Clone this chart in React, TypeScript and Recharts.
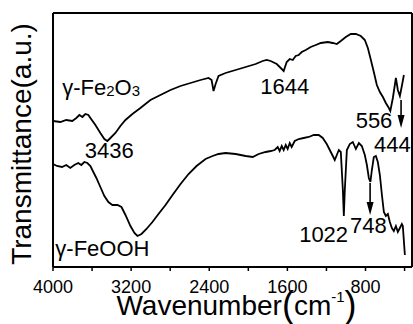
import React from "react";
import {
    LineChart,
    Line,
    XAxis,
    YAxis,
    ReferenceDot,
    ReferenceLine,
} from "recharts";

// wavenumber (cm-1) and transmittance (a.u.) for the two samples
const fe2o3Wn = [
    4000, 3925, 3864, 3802, 3761, 3730, 3699, 3669, 3638, 3617, 3566, 3515,
    3474, 3443, 3412, 3361, 3310, 3258, 3187, 3105, 3002, 2900, 2797, 2694,
    2592, 2489, 2407, 2376, 2356, 2335, 2305, 2233, 2130, 2027, 1925, 1853,
    1812, 1771, 1709, 1668, 1638, 1607, 1576, 1545, 1515, 1484, 1453, 1412,
    1361, 1309, 1258, 1186, 1135, 1094, 1053, 1002, 951, 899, 848, 807, 776,
    745, 715, 684, 653, 622, 592, 561, 546, 520, 489, 469, 448, 428, 407,
];
const fe2o3T = [
    146, 145, 147, 146, 149, 152, 150, 153, 152, 149, 142, 134, 128, 126, 129,
    134, 141, 147, 153, 159, 167, 172, 177, 181, 184, 187, 189, 187, 176, 183,
    191, 194, 197, 200, 203, 206, 207, 206, 203, 199, 196, 205, 208, 207, 211,
    212, 215, 217, 220, 222, 224, 225, 224, 223, 226, 230, 233, 233, 231, 227,
    219, 207, 195, 182, 175, 170, 164, 159, 156, 169, 189, 177, 171, 181, 192,
];

const feoohWn = [
    4000, 3959, 3908, 3864, 3823, 3782, 3741, 3710, 3679, 3648, 3617, 3587,
    3556, 3515, 3474, 3433, 3392, 3340, 3299, 3258, 3207, 3166, 3135, 3094,
    3043, 2982, 2920, 2848, 2776, 2694, 2612, 2530, 2438, 2366, 2305, 2233,
    2130, 2027, 1955, 1894, 1822, 1771, 1730, 1699, 1679, 1658, 1638, 1617,
    1597, 1576, 1556, 1525, 1484, 1433, 1381, 1330, 1279, 1238, 1197, 1166,
    1135, 1115, 1094, 1073, 1053, 1032, 1022, 1012, 991, 961, 930, 899, 868,
    838, 807, 786, 766, 750, 735, 715, 694, 674, 653, 632, 612, 592, 571, 551,
    530, 510, 489, 469, 448, 428, 418, 397,
];
const feoohT = [
    103, 101, 100, 102, 99, 102, 104, 102, 105, 104, 101, 95, 89, 80, 71, 65,
    62, 62, 60, 52, 41, 34, 31, 33, 38, 45, 53, 62, 72, 83, 93, 101, 108, 111,
    113, 114, 113, 111, 110, 113, 115, 116, 117, 120, 116, 121, 117, 122, 118,
    124, 120, 126, 128, 129, 130, 132, 132, 129, 123, 117, 111, 107, 112, 117,
    115, 77, 51, 77, 117, 123, 125, 118, 124, 121, 112, 102, 89, 85, 97, 110,
    111, 105, 92, 72, 55, 51, 53, 45, 39, 36, 41, 35, 39, 43, 41, 12,
];

const xTicks = [400, 800, 1200, 1600, 2000, 2400, 2800, 3200, 3600, 4000];
const yTicks = Array.from({ length: 32 }, (_, i) => i * 8);

// peak annotations: text, wavenumber, transmittance
const notes: [string, number, number][] = [
    ["3436", 3423, 109],
    ["1644", 1628, 173],
    ["556", 713, 139],
    ["444", 525, 115],
    ["1022", 1229, 25],
    ["748", 771, 34],
];

// arrows: wavenumber, from, to
const arrows: [number, number, number][] = [
    [436, 167, 139],
    [753, 84, 52],
];

const fe2o3 = fe2o3Wn.map((wn, i) => ({ wn, t: fe2o3T[i] }));
const feooh = feoohWn.map((wn, i) => ({ wn, t: feoohT[i] }));

const font = "'Liberation Sans', Arial, sans-serif";

function Arrow(props: any) {
    const { x1, y1, x2, y2 } = props;
    return (
        <g>
            <line x1={x1} y1={y1} x2={x2} y2={y2 - 10} stroke="#000" strokeWidth={1.6} />
            <polygon
                points={`${x2 - 3.5},${y2 - 13} ${x2 + 3.5},${y2 - 13} ${x2},${y2}`}
                fill="#000"
            />
        </g>
    );
}

export default function App() {
    return (
        <div style={{ position: "absolute", left: 0, top: 0 }}>
            <LineChart
                width={413}
                height={324}
                margin={{ top: 0, right: 0, bottom: 0, left: 0 }}
                style={{ fontFamily: font }}
            >
                <XAxis
                    dataKey="wn"
                    type="number"
                    domain={[324, 4000]}
                    reversed
                    ticks={xTicks}
                    interval={0}
                    height={57}
                    tickSize={4}
                    tickMargin={9}
                    tickFormatter={(v) => (v % 800 === 0 ? String(v) : "")}
                    tick={{ fill: "#000", fontSize: 18 }}
                    axisLine={{ stroke: "#000", strokeWidth: 2 }}
                    tickLine={{ stroke: "#000", strokeWidth: 1.5 }}
                    label={{
                        content: (p: any) => (
                            <text
                                x={p.viewBox.x + p.viewBox.width / 2 + 4}
                                y={p.viewBox.y + 48}
                                textAnchor="middle"
                                fontSize={28}
                                fill="#000"
                            >
                                Wavenumber
                                <tspan fontSize={36} dy={2}>(</tspan>
                                <tspan fontSize={28} dy={-2}>cm</tspan>
                                <tspan fontSize={15} dy={-13}>-1</tspan>
                                <tspan fontSize={36} dy={15}>)</tspan>
                            </text>
                        ),
                    }}
                />
                <XAxis
                    xAxisId="top"
                    dataKey="wn"
                    type="number"
                    orientation="top"
                    domain={[324, 4000]}
                    reversed
                    ticks={xTicks}
                    interval={0}
                    height={13}
                    tickSize={-4}
                    tick={false}
                    axisLine={{ stroke: "#000", strokeWidth: 2 }}
                    tickLine={{ stroke: "#000", strokeWidth: 1.5 }}
                />
                <YAxis
                    type="number"
                    domain={[0, 254]}
                    ticks={yTicks}
                    interval={0}
                    width={53}
                    tick={false}
                    tickSize={-3}
                    axisLine={{ stroke: "#000", strokeWidth: 2 }}
                    tickLine={{ stroke: "#000", strokeWidth: 1 }}
                    label={{
                        content: (p: any) => (
                            <text
                                transform={`translate(${p.viewBox.x + 31},${
                                    p.viewBox.y + p.viewBox.height / 2 + 4
                                }) rotate(-90)`}
                                textAnchor="middle"
                                fontSize={28}
                                fill="#000"
                            >
                                Transmittance(a.u.)
                            </text>
                        ),
                    }}
                />
                <YAxis
                    yAxisId="right"
                    orientation="right"
                    type="number"
                    domain={[0, 254]}
                    width={1}
                    tick={false}
                    tickLine={false}
                    axisLine={{ stroke: "#000", strokeWidth: 2 }}
                />
                <Line
                    data={fe2o3}
                    dataKey="t"
                    type="linear"
                    stroke="#000"
                    strokeWidth={1.8}
                    dot={false}
                    isAnimationActive={false}
                />
                <Line
                    data={feooh}
                    dataKey="t"
                    type="linear"
                    stroke="#000"
                    strokeWidth={1.8}
                    dot={false}
                    isAnimationActive={false}
                />
                {arrows.map(([wn, from, to], i) => (
                    <ReferenceLine
                        key={`a${i}`}
                        segment={[
                            { x: wn, y: from },
                            { x: wn, y: to },
                        ]}
                        shape={Arrow}
                    />
                ))}
                {notes.map(([text, wn, t], i) => (
                    <ReferenceDot
                        key={`n${i}`}
                        x={wn}
                        y={t}
                        shape={(p: any) => (
                            <text
                                x={p.cx}
                                y={p.cy}
                                textAnchor="middle"
                                fontSize={22}
                                fill="#000"
                                fontFamily={font}
                            >
                                {text}
                            </text>
                        )}
                    />
                ))}
                <ReferenceDot
                    x={3905}
                    y={172}
                    shape={(p: any) => (
                        <text x={p.cx} y={p.cy} fontSize={22} fill="#000" fontFamily={font}>
                            γ-Fe
                            <tspan fontSize={15} dy={1}>2</tspan>
                            <tspan fontSize={22} dy={-1}>O</tspan>
                            <tspan fontSize={15} dy={1}>3</tspan>
                        </text>
                    )}
                />
                <ReferenceDot
                    x={3976}
                    y={11}
                    shape={(p: any) => (
                        <text x={p.cx} y={p.cy} fontSize={22} fill="#000" fontFamily={font}>
                            γ-FeOOH
                        </text>
                    )}
                />
            </LineChart>
        </div>
    );
}
